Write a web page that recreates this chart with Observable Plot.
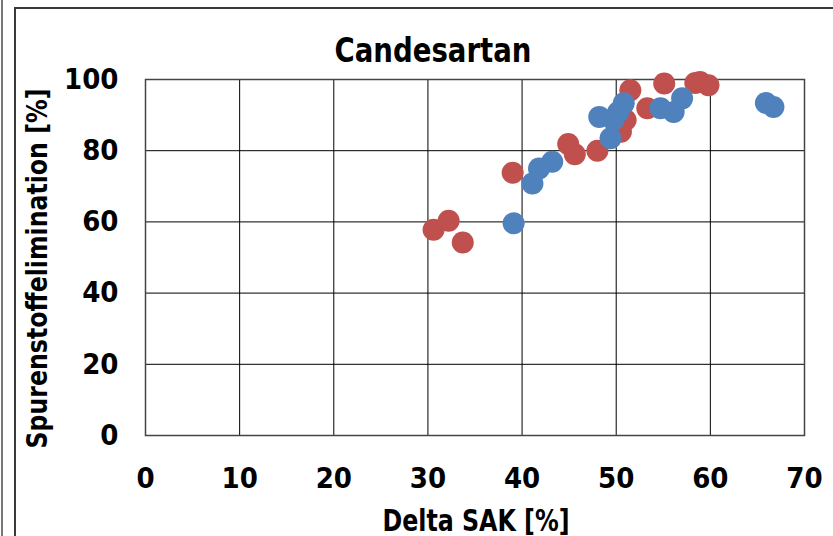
<!DOCTYPE html>
<html><head><meta charset="utf-8">
<script src="https://cdn.jsdelivr.net/npm/d3@7"></script>
<script src="https://cdn.jsdelivr.net/npm/@observablehq/plot@0.6"></script>
<style>
html,body{margin:0;padding:0;background:#fff;}
#wrap{position:relative;width:833px;height:536px;overflow:hidden;}
.ln{position:absolute;background:#3a3a3a;}
svg text{font-family:"Liberation Sans Narrow","DejaVu Sans Condensed","Arial Narrow",sans-serif;font-weight:bold;font-stretch:condensed;fill:#000;}
</style></head>
<body>
<div id="wrap">
  <div class="ln" style="left:1px;top:0;width:2px;height:536px;background:#777"></div>
  <div class="ln" style="left:14px;top:7px;width:2px;height:529px"></div>
  <div class="ln" style="left:14px;top:7px;width:819px;height:2px"></div>
  <div id="chart" style="position:absolute;left:0;top:0"></div>
</div>
<script>
const title = "Candesartan";
const xLabel = "Delta SAK [%]";
const yLabel = "Spurenstoffelimination [%]";
const xTicks = [0,10,20,30,40,50,60,70];
const yTicks = [0,20,40,60,80,100];

const redX = [30.6,32.2,33.7,39.0,44.9,45.6,48.0,51.5,51.0,50.5,53.3,55.1,58.4,58.9,59.8];
const redY = [57.8,60.3,54.2,73.8,81.9,79.0,80.0,97.0,88.6,85.3,91.9,98.9,99.0,99.3,98.4];
const blueX = [39.1,41.1,41.8,43.2,48.2,49.4,49.7,50.8,50.2,54.7,56.1,57.0,65.9,66.7];
const blueY = [59.6,70.8,75.0,76.9,89.5,83.5,88.6,93.3,90.8,91.9,90.9,94.7,93.4,92.3];

const red = redX.map((x,i)=>({x, y: redY[i]}));
const blue = blueX.map((x,i)=>({x, y: blueY[i]}));

const chart = Plot.plot({
  width: 833, height: 536,
  marginLeft: 145, marginRight: 29, marginTop: 79, marginBottom: 101,
  x: {domain:[0,70], ticks: xTicks},
  y: {domain:[0,100], ticks: yTicks},
  style: {background:"transparent", overflow:"visible"},
  marks: [
    Plot.gridX(xTicks, {stroke:"#000", strokeOpacity:1, strokeWidth:1}),
    Plot.gridY(yTicks, {stroke:"#000", strokeOpacity:1, strokeWidth:1}),
    Plot.frame({stroke:"#444", strokeWidth:1.5}),
    Plot.axisX(xTicks, {tickSize:0, tickPadding:32, fontSize:29, label:null}),
    Plot.axisY(yTicks, {tickSize:0, tickPadding:27, fontSize:29, label:null}),
    Plot.dot(red, {x:"x", y:"y", r:11, fill:"#C0504D", stroke:"none"}),
    Plot.dot(blue, {x:"x", y:"y", r:11, fill:"#4F81BD", stroke:"none"}),
    Plot.text([title], {frameAnchor:"top", text:d=>d, fontSize:34, dy:-18, dx:-42, lineAnchor:"bottom", className:"ttl"}),
    Plot.text([xLabel], {frameAnchor:"bottom", text:d=>d, fontSize:31, dy:95, dx:1, lineAnchor:"bottom", className:"xl"}),
    Plot.text([yLabel], {frameAnchor:"left", text:d=>d, fontSize:28, rotate:-90, textAnchor:"middle", lineAnchor:"bottom", dx:-99, dy:11, className:"yl"})
  ]
});
document.getElementById("chart").appendChild(chart);
const fit = (cls, len) => d3.select(chart).selectAll("g."+cls+" text").attr("textLength", len).attr("lengthAdjust","spacingAndGlyphs");
fit("ttl", 197); fit("xl", 187); fit("yl", 360);
</script>
</body></html>
